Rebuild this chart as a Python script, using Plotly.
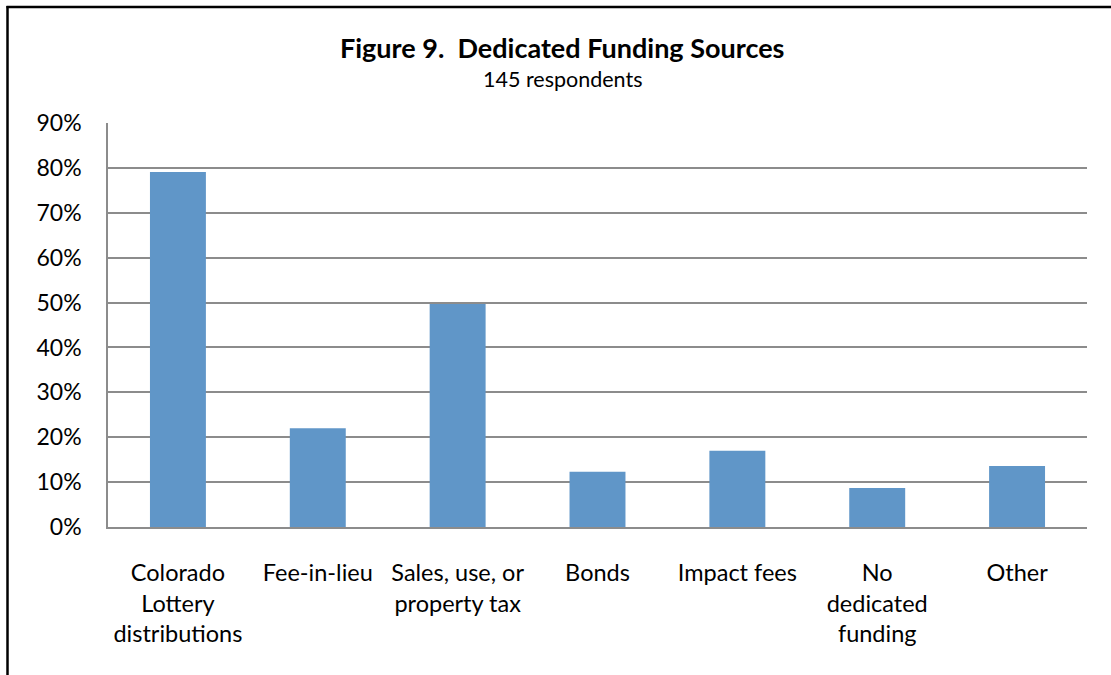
import plotly.graph_objects as go

categories = [
    "Colorado<br>Lottery<br>distributions",
    "Fee-in-lieu",
    "Sales, use, or<br>property tax",
    "Bonds",
    "Impact fees",
    "No<br>dedicated<br>funding",
    "Other",
]
values = [0.791, 0.220, 0.497, 0.123, 0.170, 0.087, 0.136]
tick_vals = [0, 0.1, 0.2, 0.3, 0.4, 0.5, 0.6, 0.7, 0.8, 0.9]
tick_text = ["0%", "10%", "20%", "30%", "40%", "50%", "60%", "70%", "80%", "90%"]

W, H = 1111, 675
L, R, T, B = 108, 1087, 123, 527

fig = go.Figure(go.Bar(
    x=categories, y=values,
    marker=dict(color="#6096C8", line=dict(width=0)),
    width=0.4,
))

font_family = "Lato, 'Open Sans', sans-serif"


def px_x(p):
    return (p - L) / (R - L)


def px_y(p):
    return (B - p) / (B - T)


fig.update_layout(
    width=W, height=H,
    margin=dict(l=L, r=W - R, t=T, b=H - B, pad=0),
    paper_bgcolor="white", plot_bgcolor="white",
    showlegend=False,
    font=dict(family=font_family, color="black", size=23),
    xaxis=dict(
        showline=True, linecolor="#8C8C8C", linewidth=1.5,
        showgrid=False, ticks="", ticklabelstandoff=24,
        tickfont=dict(size=23.5),
        range=[-0.5, 6.5],
    ),
    yaxis=dict(
        range=[0, 0.9], tickvals=tick_vals, ticktext=tick_text,
        showgrid=True, gridcolor="#8C8C8C", gridwidth=1.5,
        showline=True, linecolor="#8C8C8C", linewidth=1.5,
        ticks="", ticklabelstandoff=20,
        tickfont=dict(size=23),
        zeroline=False,
    ),
    shapes=[
        dict(type="line", xref="paper", yref="paper",
             x0=px_x(6.5), x1=px_x(1111), y0=px_y(7), y1=px_y(7),
             line=dict(color="black", width=2.5)),
        dict(type="line", xref="paper", yref="paper",
             x0=px_x(7.5), x1=px_x(7.5), y0=px_y(6), y1=px_y(675),
             line=dict(color="black", width=2.5)),
    ],
    annotations=[
        dict(text="<b>Figure 9.  Dedicated Funding Sources</b>",
             xref="paper", yref="paper", x=px_x(562), y=px_y(47),
             showarrow=False, font=dict(size=27, family=font_family),
             xanchor="center", yanchor="middle"),
        dict(text="145 respondents",
             xref="paper", yref="paper", x=px_x(562), y=px_y(79),
             showarrow=False, font=dict(size=21.5, family=font_family),
             xanchor="center", yanchor="middle"),
    ],
)

fig.write_html("out.html", config={"displayModeBar": False},
               post_script="document.body.style.margin='0';")
